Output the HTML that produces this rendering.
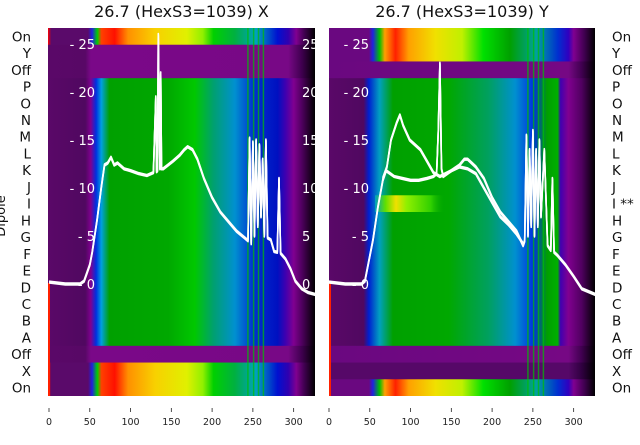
<!DOCTYPE html>
<html><head><meta charset="utf-8"><style>
body{margin:0;background:#fff;width:640px;height:440px;overflow:hidden;font-family:"Liberation Sans",sans-serif}
svg text{font-family:"DejaVu Sans","Liberation Sans",sans-serif}
</style></head><body>
<svg id="chart" width="640" height="440" xmlns="http://www.w3.org/2000/svg">
<defs>
<linearGradient id="specL" x1="0" x2="1">
<stop offset="0" stop-color="#ff0000"/><stop offset="0.012" stop-color="#5a0a6a"/><stop offset="0.15" stop-color="#5a0a6a"/><stop offset="0.165" stop-color="#2020e0"/><stop offset="0.185" stop-color="#00d000"/><stop offset="0.2" stop-color="#ff4000"/><stop offset="0.25" stop-color="#ff1000"/><stop offset="0.3" stop-color="#ff9000"/><stop offset="0.4" stop-color="#f8d000"/><stop offset="0.52" stop-color="#e0f000"/><stop offset="0.58" stop-color="#90f000"/><stop offset="0.62" stop-color="#00d000"/><stop offset="0.7" stop-color="#00b040"/><stop offset="0.78" stop-color="#00a0c0"/><stop offset="0.86" stop-color="#0010d0"/><stop offset="0.9" stop-color="#3000b0"/><stop offset="0.93" stop-color="#800090"/><stop offset="0.96" stop-color="#400050"/><stop offset="1" stop-color="#000"/>
</linearGradient>
<linearGradient id="mainL" x1="0" x2="1">
<stop offset="0" stop-color="#5a0868"/><stop offset="0.14" stop-color="#500860"/><stop offset="0.16" stop-color="#800090"/><stop offset="0.18" stop-color="#0030e0"/><stop offset="0.2" stop-color="#00a0e0"/><stop offset="0.23" stop-color="#00a000"/><stop offset="0.45" stop-color="#00a800"/><stop offset="0.55" stop-color="#00c800"/><stop offset="0.62" stop-color="#00a070"/><stop offset="0.7" stop-color="#0090d0"/><stop offset="0.77" stop-color="#0030d0"/><stop offset="0.86" stop-color="#0010c0"/><stop offset="0.89" stop-color="#4000b0"/><stop offset="0.92" stop-color="#800090"/><stop offset="0.95" stop-color="#500060"/><stop offset="1" stop-color="#000"/>
</linearGradient>
<linearGradient id="bandL" x1="0" x2="1">
<stop offset="0" stop-color="#5a0868"/><stop offset="0.14" stop-color="#580866"/><stop offset="0.16" stop-color="#7a0888"/><stop offset="0.9" stop-color="#780886"/><stop offset="0.95" stop-color="#400050"/><stop offset="1" stop-color="#000"/>
</linearGradient>
<linearGradient id="specR" x1="0" x2="1">
<stop offset="0" stop-color="#6a0880"/><stop offset="0.15" stop-color="#6a0880"/><stop offset="0.165" stop-color="#2020e0"/><stop offset="0.19" stop-color="#00c000"/><stop offset="0.21" stop-color="#ffa000"/><stop offset="0.25" stop-color="#ff2000"/><stop offset="0.3" stop-color="#ffa000"/><stop offset="0.4" stop-color="#f0e000"/><stop offset="0.5" stop-color="#c0f000"/><stop offset="0.58" stop-color="#00e000"/><stop offset="0.68" stop-color="#00a000"/><stop offset="0.78" stop-color="#00a0a0"/><stop offset="0.86" stop-color="#0030d0"/><stop offset="0.9" stop-color="#3000c0"/><stop offset="0.92" stop-color="#800090"/><stop offset="0.96" stop-color="#400050"/><stop offset="1" stop-color="#000"/>
</linearGradient>
<linearGradient id="mainR" x1="0" x2="1">
<stop offset="0" stop-color="#5a0868"/><stop offset="0.13" stop-color="#500860"/><stop offset="0.15" stop-color="#0020d0"/><stop offset="0.19" stop-color="#00a0c0"/><stop offset="0.24" stop-color="#00a000"/><stop offset="0.45" stop-color="#00a800"/><stop offset="0.6" stop-color="#00a060"/><stop offset="0.7" stop-color="#0090d0"/><stop offset="0.77" stop-color="#0030e0"/><stop offset="0.82" stop-color="#00a000"/><stop offset="0.86" stop-color="#00b000"/><stop offset="0.87" stop-color="#4000b0"/><stop offset="0.9" stop-color="#800090"/><stop offset="0.95" stop-color="#500060"/><stop offset="1" stop-color="#000"/>
</linearGradient>
<linearGradient id="rowI" x1="0" x2="1">
<stop offset="0" stop-color="#00a0c0"/><stop offset="0.15" stop-color="#60e000"/><stop offset="0.3" stop-color="#f0e000"/><stop offset="0.45" stop-color="#90f000"/><stop offset="0.8" stop-color="#30d000"/><stop offset="1" stop-color="#00a800" stop-opacity="0"/>
</linearGradient>
<linearGradient id="bandR" x1="0" x2="1">
<stop offset="0" stop-color="#6a0880"/><stop offset="0.9" stop-color="#760884"/><stop offset="0.95" stop-color="#400050"/><stop offset="1" stop-color="#000"/>
</linearGradient>
<linearGradient id="bandR2" x1="0" x2="1">
<stop offset="0" stop-color="#560868"/><stop offset="0.9" stop-color="#560868"/><stop offset="0.95" stop-color="#300040"/><stop offset="1" stop-color="#000"/>
</linearGradient>
<clipPath id="clipL"><rect x="48" y="28" width="267" height="368"/></clipPath>
<clipPath id="clipR"><rect x="329" y="28" width="266" height="368"/></clipPath>
</defs>
<g id="layer"></g>
</svg>
<script>
// x-axis ticks & row labels
const xTicks = [0, 50, 100, 150, 200, 250, 300];
const yTicks = [0, 5, 10, 15, 20, 25];
const rowsLeft = ["On","Y","Off","P","O","N","M","L","K","J","I","H","G","F","E","D","C","B","A","Off","X","On"];
const rowsRight = ["On","Y","Off","P","O","N","M","L","K","J","I **","H","G","F","E","D","C","B","A","Off","X","On"];
// left panel (X) curve
const leftX = [0,20,38,43,50,53,59,64,68,72,76,80,84,92,100,110,120,128,131,132,133,134,136,137,138,140,146,152,160,166,170,176,182,190,200,210,220,230,240,244,246,248,250,252,254,256,258,260,262,264,266,268,272,276,280,282,284,286,290,296,302,310,318,327];
const leftY = [0.2,0,0,0.3,2,3.3,6.7,10,12.4,12.6,13.2,12.4,12.6,12,11.8,11.5,11.3,11.6,19.5,11.7,11.8,26,12,22,12,12,12.4,12.8,13.4,14,14.3,14,13,11,9,7.5,6.5,5.5,4.8,4.5,15.2,4.2,14.8,5,15,6,14.5,7,13,5,15,4.8,4.6,3.4,3.3,11,3.2,3,2.6,1.6,0.3,-0.5,-0.9,-1.1];
// right panel (Y) curves
const rightX = [0,20,35,40,44,48,54,60,66,70,80,90,100,110,120,128,132,134,136,138,140,150,160,166,170,175,180,190,200,210,220,230,238,240,242,244,246,248,250,252,254,256,258,260,264,268,272,274,276,280,290,300,310,327];
const rightY = [0.2,0,0,0,0.3,2,4.6,8,10.8,11.8,11.2,11,10.8,10.8,11,11.2,11.5,16,23,12,11.2,11.8,12.4,13,13,12.6,12.2,11,9,7.5,6.5,5.5,4,4.5,15.5,5,14,6,16,5,14,6,15,7,14,4,3.5,11,3.3,3,2,0.8,-0.5,-1.1];
const rightAltX = [66,71,76,83,87,91,99,112,120,128,136,150,160,170,180,190,200,210,220,230,238];
const rightAltY = [11,12.2,15,16.8,17.6,16.5,15,14,12.8,11.6,11.2,11.8,12.2,12,11.5,10,8.5,7,6.2,5.2,4.2];

const svg = document.getElementById('chart');
const layer = document.getElementById('layer');
const NS = 'http://www.w3.org/2000/svg';
const TOP = 28, H = 368, ROWH = H / 22;
function mk(tag, attrs, parent) { const e = document.createElementNS(NS, tag); for (const k in attrs) e.setAttribute(k, attrs[k]); (parent || layer).appendChild(e); return e; }
function xs(x0, v) { return x0 + v * 0.8155; }
function ys(v) { return 284 - v * 9.6; }

const panels = [
  {x0: 48, w: 267, clip: 'clipL', title: '26.7 (HexS3=1039) X', bands: [[0,1,'specL'],[1,3,'bandL'],[3,19,'mainL'],[19,20,'bandL'],[20,22,'specL']]},
  {x0: 329, w: 266, clip: 'clipR', title: '26.7 (HexS3=1039) Y', bands: [[0,2,'specR'],[2,3,'bandR'],[3,19,'mainR'],[19,20,'bandR'],[20,21,'bandR2'],[21,22,'specR']]}
];
panels.forEach((p, pi) => {
  const g = mk('g', {'clip-path': 'url(#' + p.clip + ')'});
  
  
  p.bands.forEach(b => {
    const r = mk('rect', {x: p.x0, y: TOP + b[0] * ROWH, width: p.w, height: (b[1] - b[0]) * ROWH + 0.5, fill: 'url(#' + b[2] + ')'}, g);
    
    
  });
  if (pi === 1) {
    const r = mk('rect', {x: 375, y: TOP + 10 * ROWH, width: 70, height: ROWH, fill: 'url(#rowI)'}, g);
    
    
  }
  const red = mk('rect', {x: p.x0, y: 283, width: 2, height: 113, fill: '#ff2000'}, g);
  
  
  // vertical streaks
  [243, 250, 256, 262].forEach(v => {
    const s = mk('rect', {x: xs(p.x0 + (pi ? 0 : 1), v), y: TOP, width: 1.5, height: H, fill: '#00c000', opacity: 0.7}, g);
    
    
  });
  // title
  const t = mk('text', {x: p.x0 + p.w / 2, y: 17, 'font-size': 16, 'text-anchor': 'middle', fill: '#111'});
  t.textContent = p.title;
  
  
  // x ticks
  xTicks.forEach(v => {
    const x = xs(p.x0 + (pi ? 0 : 1), v);
    const tk = mk('line', {x1: x, x2: x, y1: 408, y2: 412, stroke: '#222', 'stroke-width': 0.8});
    
    
    const tl = mk('text', {x: x, y: 425, 'font-size': 9.5, 'text-anchor': 'middle', fill: '#222'});
    tl.textContent = v;
    
    
  });
  // inner y labels
  yTicks.forEach(v => {
    const tl = mk('text', {x: p.x0 + (pi ? 40 : 47), y: ys(v) + 5, 'font-size': 13, 'text-anchor': 'end', fill: '#fff'}, g);
    tl.textContent = '- ' + v;
    
    
  });
  if (pi === 0) {
    yTicks.forEach(v => {
      const tl = mk('text', {x: 302, y: ys(v) + 5, 'font-size': 13, fill: '#fff'}, g);
      tl.textContent = v;
      
      
    });
  }
  // curves
  const x0 = p.x0 + (pi ? 0 : 1);
  const series = pi ? [[rightX, rightY], [rightAltX, rightAltY]] : [[leftX, leftY]];
  series.forEach((s, si) => {
    [-0.3, 0, 0.3].forEach(off => {
      const d = s[0].map((v, i) => (i ? 'L' : 'M') + xs(x0, v).toFixed(1) + ',' + (ys(s[1][i]) + off * 3).toFixed(1)).join(' ');
      const path = mk('path', {d: d, fill: 'none', stroke: '#fff', 'stroke-width': 1.6, 'stroke-linejoin': 'round'}, g);
      
      
    });
  });
});
// row labels
rowsLeft.forEach((r, i) => {
  const t = mk('text', {x: 31, y: TOP + (i + 0.5) * ROWH + 5, 'font-size': 13.5, 'text-anchor': 'end', fill: '#111'});
  t.textContent = r;
  
  
});
rowsRight.forEach((r, i) => {
  const t = mk('text', {x: 612, y: TOP + (i + 0.5) * ROWH + 5, 'font-size': 13.5, fill: '#111'});
  t.textContent = r;
  
  
});
const yl = mk('text', {x: 0, y: 0, 'font-size': 13, 'text-anchor': 'middle', fill: '#111', transform: 'translate(5,216) rotate(-90)'});
yl.textContent = 'Dipole';


</script>
</body></html>
